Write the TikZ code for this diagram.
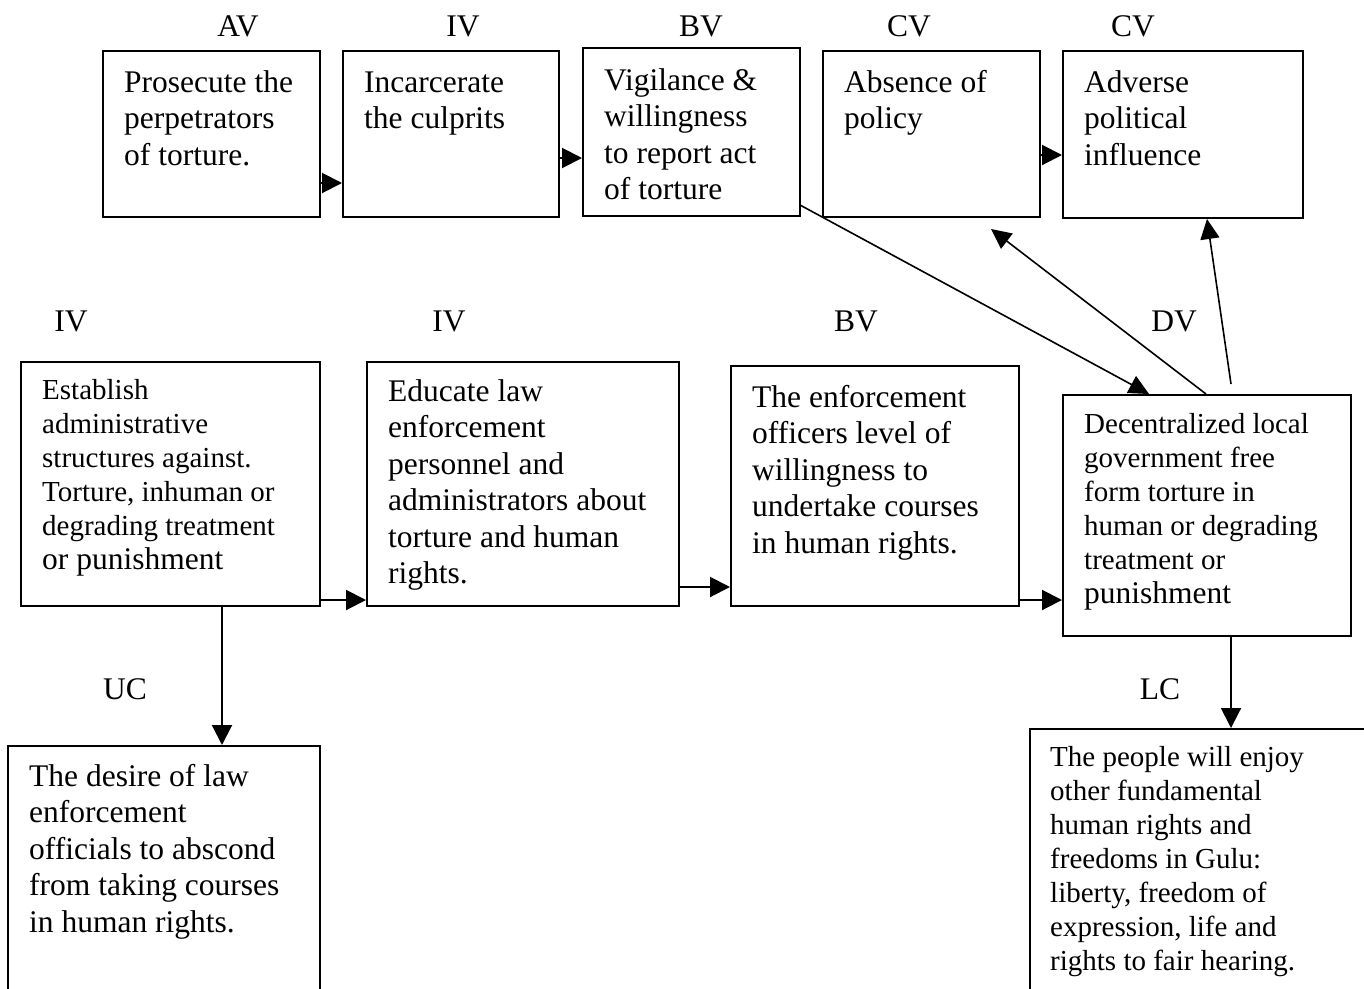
\documentclass[tikz,border=0pt]{standalone}
\usepackage{fontspec}
\setmainfont{Liberation Serif}
\usetikzlibrary{arrows.meta,calc}
\newcommand\bigf{\fontsize{31.5}{36.5}\selectfont}
\newcommand\smlf{\fontsize{29}{34}\selectfont}
\tikzset{
  box/.style={draw, line width=2pt, inner sep=0pt},
  txt/.style={inner sep=0pt, align=left, anchor=base west},
  lbl/.style={inner sep=0pt, anchor=base, font=\bigf},
  arr/.style={line width=2pt, -{Triangle[length=20pt,width=20pt]}},
  darr/.style={line width=1.6pt, -{Triangle[length=20pt,width=19pt]}},
  dline/.style={line width=1.6pt}
}
\begin{document}
\begin{tikzpicture}[x=1pt,y=-1pt]
\useasboundingbox (0,0) rectangle (1364,988);
\clip (0,0) rectangle (1364,988);

% top row labels
\node[lbl] (lav) at (238,36) {AV};
\node[lbl] (liv1) at (463,36) {IV};
\node[lbl] (lbv1) at (701,36) {BV};
\node[lbl] (lcv1) at (909,36) {CV};
\node[lbl] (lcv2) at (1133,36) {CV};

% top row boxes
\node[box, minimum width=217, minimum height=166] (b1) at (211.5,134) {};
\node[box, minimum width=216, minimum height=166] (b2) at (451,134) {};
\node[box, minimum width=217, minimum height=168] (b3) at (691.5,132) {};
\node[box, minimum width=217, minimum height=166] (b4) at (931.5,134) {};
\node[box, minimum width=240, minimum height=167] (b5) at (1183,134.5) {};

% text anchored at the baseline of its last line
\node[txt, font=\bigf] (t1) at (124,165) {Prosecute the\\perpetrators\\of torture.};
\node[txt, font=\bigf] (t2) at (364,128.5) {Incarcerate\\the culprits};
\node[txt, font=\bigf] (t3) at (604,199.5) {Vigilance \&\\willingness\\to report act\\of torture};
\node[txt, font=\bigf] (t4) at (844,128.5) {Absence of\\policy};
\node[txt, font=\bigf] (t5) at (1084,165) {Adverse\\political\\influence};

% middle row labels
\node[lbl] (liv2) at (71,331) {IV};
\node[lbl] (liv3) at (449,331) {IV};
\node[lbl] (lbv2) at (856,331) {BV};
\node[lbl] (ldv) at (1174,331) {DV};

% middle row boxes
\node[box, minimum width=299, minimum height=244] (b6) at (170.5,484) {};
\node[box, minimum width=312, minimum height=244] (b7) at (523,484) {};
\node[box, minimum width=288, minimum height=240] (b8) at (875,486) {};
\node[box, minimum width=288, minimum height=241] (b9) at (1207,515.5) {};

\node[txt, font=\smlf] (t6) at (42,569) {Establish\\administrative\\structures against.\\Torture, inhuman or\\degrading treatment\\{\bigf or punishment}};
\node[txt, font=\bigf] (t7) at (388,583.5) {Educate law\\enforcement\\personnel and\\administrators about\\torture and human\\rights.};
\node[txt, font=\bigf] (t8) at (752,553) {The enforcement\\officers level of\\willingness to\\undertake courses\\in human rights.};
\node[txt, font=\smlf] (t9) at (1084,603) {Decentralized local\\government free\\form torture in\\human or degrading\\treatment or\\{\bigf punishment}};

% bottom labels
\node[lbl] (luc) at (125,699) {UC};
\node[lbl] (llc) at (1160,699) {LC};

% bottom boxes (running past the lower edge)
\node[box, minimum width=312, minimum height=264] (b10) at (164,878) {};
\node[box, minimum width=360, minimum height=281] (b11) at (1210,869.5) {};

\node[txt, font=\bigf] (t10) at (29,932) {The desire of law\\enforcement\\officials to abscond\\from taking courses\\in human rights.};
\node[txt, font=\smlf] (t11) at (1050,970) {The people will enjoy\\other fundamental\\human rights and\\freedoms in Gulu:\\liberty, freedom of\\expression, life and\\rights to fair hearing.};

% horizontal connectors
\draw[arr] (b1.east |- 0,183) -- (b2.west |- 0,183);
\draw[arr] (b2.east |- 0,158) -- (b3.west |- 0,158);
\draw[arr] (b4.east |- 0,155) -- (b5.west |- 0,155);
\draw[arr] (b6.east |- 0,600) -- (b7.west |- 0,600);
\draw[arr] (b7.east |- 0,587) -- (b8.west |- 0,587);
\draw[arr] (b8.east |- 0,600) -- (b9.west |- 0,600);

% vertical connectors
\draw[arr] (b6.south -| 222,0) -- (b10.north -| 222,0);
\draw[arr] (b9.south -| 1231,0) -- (b11.north -| 1231,0);

% diagonal connectors
\draw[darr] ($(b3.south east)+(-1,-12)$) -- ($(b9.north west)+(87,0)$);
\draw[darr] ($(b9.north west)+(144,0)$) -- ($(b4.south west)+(169,11)$);
\draw[darr] ($(b9.north west)+(169,-10)$) -- ($(b5.south west)+(145,0)$);
\end{tikzpicture}
\end{document}
